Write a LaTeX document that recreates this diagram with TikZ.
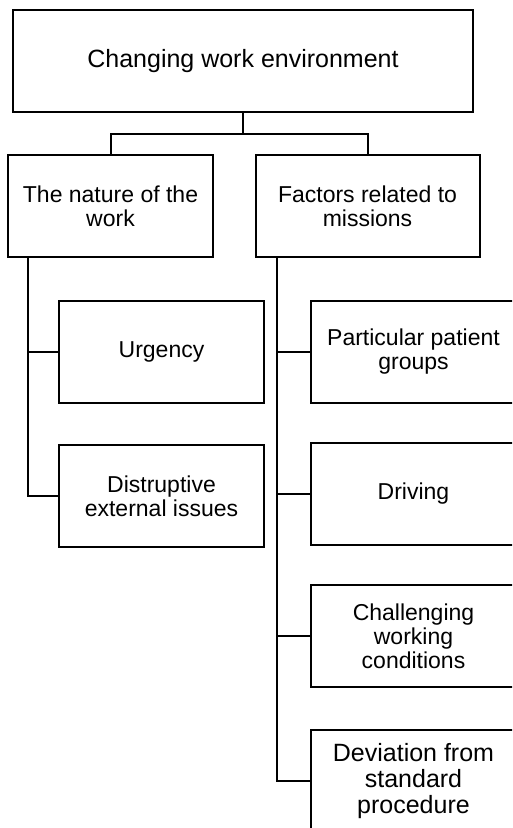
\documentclass[tikz,border=0pt]{standalone}
\usepackage{fontspec}
\setmainfont{Liberation Sans}
\begin{document}
\begin{tikzpicture}[x=1pt, y=-1pt, line width=2pt, line join=miter,
    box/.style={draw, align=center, inner sep=0pt, minimum height=102pt, font=\fontsize{23}{24}\selectfont}]
  \useasboundingbox (0,0) rectangle (512,828);
  \clip (0,0) rectangle (512,828);
  % top level
  \node[box, minimum width=460pt, font=\fontsize{25}{26}\selectfont] (env) at (243,61) {Changing work environment};
  \node[box, minimum width=205pt] (nat) at (110.5,206) {The nature of the\\work};
  \node[box, minimum width=224pt] (fac) at (367.5,206) {Factors related to\\missions};
  \coordinate (split) at (243,134);
  \draw (env.south) -- (split);
  \draw (nat.north) |- (split) -| (fac.north);
  % left branch
  \foreach \n/\y/\t in {urg/351.5/Urgency, dis/496/{Distruptive\\external issues}}
  {
    \node[box, minimum width=205pt] (\n) at (161.5,\y) {\t};
    \draw ([xshift=21]nat.south west) |- (\n.west);
  }
  % right branch
  \foreach \n/\y/\t in {pat/351.5/{Particular patient\\groups}, drv/493.5/Driving, cha/636/{Challenging\\working\\conditions}}
  {
    \node[box, minimum width=205pt] (\n) at (413.5,\y) {\t};
    \draw ([xshift=22.5]fac.south west) |- (\n.west);
  }
  \node[box, minimum width=205pt, font=\fontsize{25}{26}\selectfont] (dev) at (413.5,781) {Deviation from\\standard\\procedure};
  \draw ([xshift=22.5]fac.south west) |- (dev.west);
\end{tikzpicture}
\end{document}
